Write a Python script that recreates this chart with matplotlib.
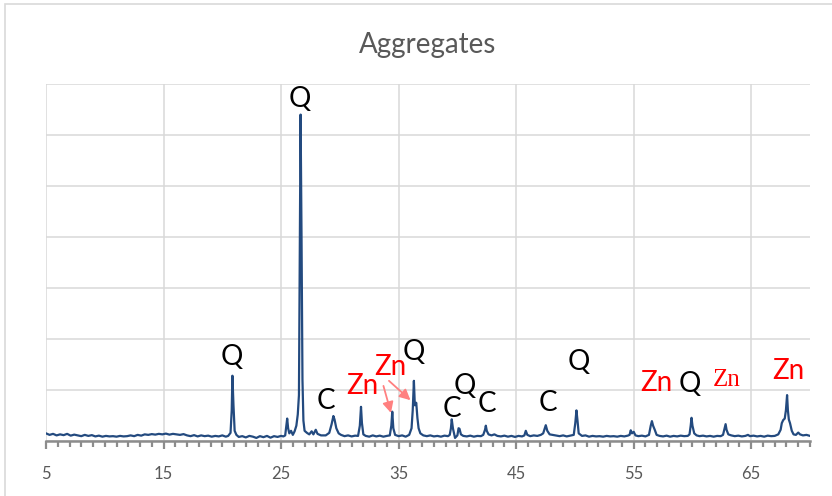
import matplotlib
matplotlib.use('Agg')
import matplotlib.pyplot as plt
from matplotlib.patches import Rectangle
from matplotlib.ticker import MultipleLocator

# diffractogram: 2-theta (deg) and counts
two_theta = [
    5.0, 5.3, 5.6, 5.9, 6.2, 6.5, 6.8, 7.1, 7.4, 7.7, 8.0, 8.3, 8.6, 8.9,
    9.2, 9.5, 9.8, 10.1, 10.4, 10.7, 11.0, 11.3, 11.6, 11.9, 12.2, 12.5,
    12.8, 13.1, 13.4, 13.7, 14.0, 14.3, 14.6, 14.9, 15.2, 15.5, 15.8, 16.1,
    16.4, 16.7, 17.0, 17.3, 17.6, 17.9, 18.2, 18.5, 18.8, 19.1, 19.4, 19.7,
    20.0, 20.3, 20.5, 20.7, 20.8, 20.86, 20.95, 21.05, 21.2, 21.4, 21.7,
    22.0, 22.3, 22.6, 22.9, 23.2, 23.5, 23.8, 24.1, 24.4, 24.7, 25.0, 25.2,
    25.35, 25.45, 25.52, 25.6, 25.7, 25.85, 26.0, 26.15, 26.3, 26.42, 26.52,
    26.6, 26.66, 26.74, 26.82, 26.9, 27.0, 27.2, 27.4, 27.6, 27.75, 27.95,
    28.1, 28.4, 28.8, 29.1, 29.3, 29.45, 29.55, 29.7, 29.9, 30.1, 30.4,
    30.7, 31.0, 31.3, 31.55, 31.7, 31.8, 31.88, 32.0, 32.2, 32.5, 32.8,
    33.1, 33.4, 33.7, 34.0, 34.25, 34.38, 34.46, 34.55, 34.7, 35.0, 35.3,
    35.6, 35.9, 36.1, 36.2, 36.3, 36.38, 36.5, 36.6, 36.7, 36.85, 37.1,
    37.4, 37.7, 38.0, 38.3, 38.6, 38.9, 39.2, 39.35, 39.45, 39.52, 39.62,
    39.8, 40.0, 40.1, 40.18, 40.3, 40.5, 40.8, 41.1, 41.4, 41.7, 42.0,
    42.2, 42.35, 42.42, 42.5, 42.65, 42.9, 43.15, 43.4, 43.7, 44.0, 44.3,
    44.6, 44.9, 45.2, 45.5, 45.7, 45.82, 45.95, 46.2, 46.5, 46.8, 47.1,
    47.3, 47.45, 47.52, 47.65, 47.85, 48.1, 48.4, 48.7, 49.0, 49.3, 49.6,
    49.9, 50.03, 50.13, 50.22, 50.32, 50.6, 50.9, 51.2, 51.5, 51.8, 52.1,
    52.4, 52.7, 53.0, 53.3, 53.6, 53.9, 54.2, 54.5, 54.65, 54.75, 54.85,
    55.0, 55.15, 55.4, 55.7, 56.0, 56.3, 56.45, 56.55, 56.65, 56.8, 56.95,
    57.2, 57.5, 57.8, 58.1, 58.4, 58.7, 59.0, 59.3, 59.6, 59.75, 59.85,
    59.92, 60.0, 60.15, 60.35, 60.6, 60.9, 61.2, 61.5, 61.8, 62.1, 62.4,
    62.6, 62.72, 62.82, 62.9, 63.05, 63.3, 63.6, 63.9, 64.2, 64.5, 64.72,
    64.9, 65.2, 65.5, 65.8, 66.1, 66.4, 66.7, 67.0, 67.3, 67.5, 67.6, 67.72,
    67.85, 67.95, 68.05, 68.12, 68.2, 68.3, 68.45, 68.6, 68.8, 69.0, 69.15,
    69.4, 69.7, 70.0,
]
counts = [
    150, 120, 140, 110, 130, 115, 140, 105, 125, 110, 95, 120, 100, 115,
    90, 105, 85, 100, 90, 95, 85, 100, 90, 95, 110, 95,
    120, 105, 130, 120, 135, 125, 140, 130, 145, 125, 140, 130,
    120, 135, 110, 95, 115, 90, 110, 95, 105, 85, 100, 90,
    110, 85, 100, 160, 600, 1280, 700, 200, 120, 80, 95,
    70, 100, 85, 60, 95, 75, 100, 65, 95, 80, 100, 90,
    110, 300, 440, 250, 150, 200, 120, 190, 300, 520, 900,
    4000, 6400, 4000, 1200, 400, 200, 160, 130, 190, 130, 220,
    140, 110, 110, 160, 330, 490, 420, 250, 150, 120, 95,
    110, 90, 105, 100, 300, 670, 350, 130, 100, 85, 110,
    90, 105, 85, 100, 110, 300, 575, 250, 120, 95, 110,
    85, 120, 250, 600, 1180, 700, 750, 450, 250, 150, 110,
    95, 110, 90, 100, 85, 105, 95, 120, 250, 425, 250,
    60, 110, 250, 240, 130, 100, 90, 105, 85, 100, 95,
    120, 220, 300, 200, 130, 110, 130, 100, 90, 105, 85,
    100, 80, 100, 90, 110, 200, 120, 95, 110, 100, 120,
    150, 260, 310, 200, 130, 120, 110, 95, 110, 90, 105,
    120, 350, 600, 400, 150, 100, 110, 85, 100, 90, 95,
    85, 100, 90, 95, 85, 100, 90, 105, 120, 210, 150,
    180, 110, 95, 105, 90, 120, 300, 390, 300, 215, 120,
    100, 90, 105, 85, 100, 90, 105, 95, 100, 130, 300,
    455, 300, 150, 110, 95, 105, 90, 100, 85, 100, 95,
    120, 230, 330, 220, 130, 110, 95, 105, 90, 100, 120,
    95, 105, 90, 100, 85, 105, 95, 100, 130, 220, 350, 410,
    440, 600, 900, 600, 420, 350, 200, 130, 120, 165, 130,
    110, 120, 100,
]

# phase labels: text, 2-theta, height, colour, font family
labels = [
    ('Q', 26.61, 6700, 'black', 'Lato'),
    ('Q', 20.82, 1650, 'black', 'Lato'),
    ('C', 28.82, 790, 'black', 'Lato'),
    ('Zn', 31.88, 1080, 'red', 'Lato'),
    ('Zn', 34.27, 1450, 'red', 'Lato'),
    ('Q', 36.31, 1750, 'black', 'Lato'),
    ('Q', 40.65, 1080, 'black', 'Lato'),
    ('C', 39.54, 630, 'black', 'Lato'),
    ('C', 42.52, 730, 'black', 'Lato'),
    ('C', 47.71, 750, 'black', 'Lato'),
    ('Q', 50.35, 1550, 'black', 'Lato'),
    ('Zn', 56.90, 1140, 'red', 'Lato'),
    ('Q', 59.79, 1120, 'black', 'Lato'),
    ('Zn', 62.94, 1200, 'red', 'Liberation Serif'),
    ('Zn', 68.13, 1375, 'red', 'Lato'),
]

# arrows from the two Zn labels down to their peaks
arrows = [
    ((33.71, 1080), (34.35, 550)),
    ((34.18, 1180), (36.01, 800)),
]

tick_values = [5, 15, 25, 35, 45, 55, 65]

plt.rcParams['font.family'] = ['Lato', 'DejaVu Sans']

fig = plt.figure(figsize=(8.32, 4.96), dpi=100)
ax = fig.add_axes([46 / 832, 1 - 441 / 496, 764 / 832, 357 / 496])

# chart border
fig.patches.append(Rectangle((5 / 832, -0.1), 1.2, 1.1 - 4 / 496,
                             transform=fig.transFigure, fill=False,
                             edgecolor='#d9d9d9', linewidth=1.2))

ax.plot(two_theta, counts, color='#234a7f', linewidth=1.6, zorder=3)

ax.set_xlim(5, 70)
ax.set_ylim(0, 7000)
ax.set_xticks(tick_values)
ax.xaxis.set_minor_locator(MultipleLocator(1))
ax.set_yticks(range(0, 7001, 1000))
ax.tick_params(axis='y', length=0, labelleft=False)
ax.tick_params(axis='x', which='major', length=6, width=1.6,
               color='#8c8c8c', labelsize=12, labelcolor='#595959', pad=12)
ax.tick_params(axis='x', which='minor', length=4, width=1.6, color='#8c8c8c')

ax.grid(True, color='#d9d9d9', linewidth=1.1, zorder=0)
ax.set_axisbelow(True)
for side in ['top', 'right', 'left']:
    ax.spines[side].set_visible(False)
ax.spines['bottom'].set_color('#8c8c8c')
ax.spines['bottom'].set_linewidth(1.8)

ax.set_title('Aggregates', fontsize=20, color='#595959', pad=22)

for text, x, y, color, family in labels:
    size = 18 if family == 'Liberation Serif' else 20
    ax.text(x, y, text, color=color, fontsize=size, ha='center', va='center',
            family=[family, 'DejaVu Sans'], zorder=4)

for start, end in arrows:
    ax.annotate('', xy=end, xytext=start,
                arrowprops=dict(arrowstyle='-|>', color='#ff8080', lw=1.3,
                                mutation_scale=16, shrinkA=0, shrinkB=0))

fig.savefig('out.png', dpi=100)
